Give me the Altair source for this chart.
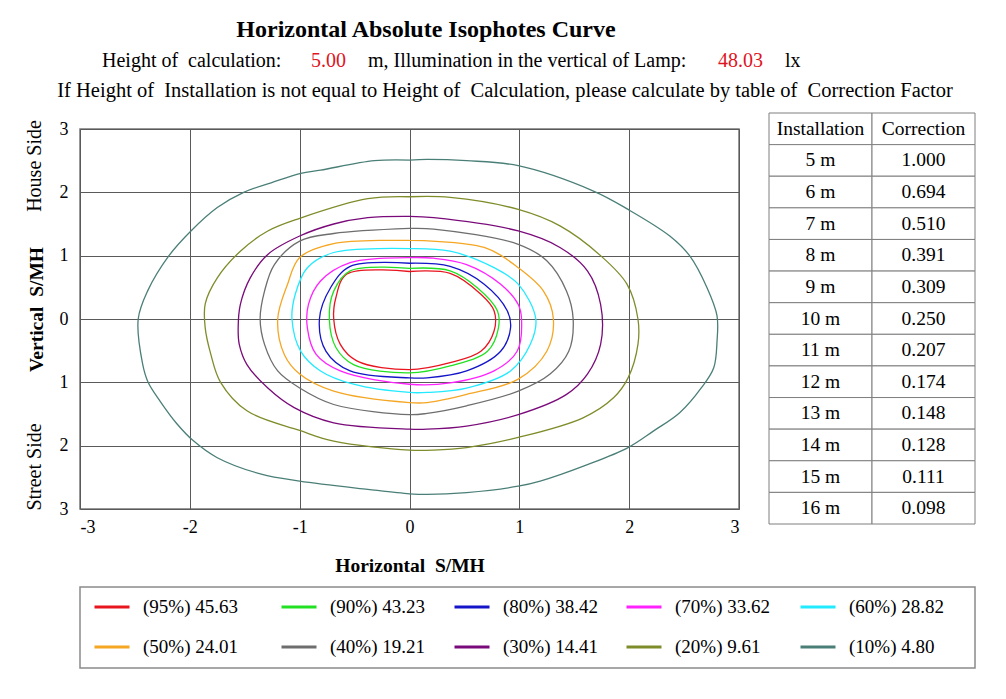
import altair as alt
import pandas as pd

FONT = "Liberation Serif"
NB = "\u00a0"

# ---- contour levels (legend labels) and colours ----
levels = ["(95%) 45.63", "(90%) 43.23", "(80%) 38.42", "(70%) 33.62", "(60%) 28.82",
          "(50%) 24.01", "(40%) 19.21", "(30%) 14.41", "(20%) 9.61", "(10%) 4.80"]
colors = ["#e8141e", "#22e022", "#1414c8", "#ff22ff", "#22eaff",
          "#f5a623", "#6e6e6e", "#7a0a7a", "#7f8c2a", "#4a7f78"]

# ---- isophote curves (x = horizontal S/MH, y = vertical S/MH) ----
x95 = [0, 0.37, 0.65, 0.77, 0.77, 0.65, 0.37, 0, -0.48, -0.63, -0.69, -0.67, -0.57, 0]
y95 = [0.75, 0.72, 0.39, 0.13, -0.19, -0.51, -0.69, -0.80, -0.66, -0.40, 0, 0.34, 0.71, 0.75]

x90 = [0, 0.37, 0.62, 0.80, 0.81, 0.71, 0.37, 0, -0.51, -0.67, -0.73, -0.69, -0.54, 0]
y90 = [0.80, 0.76, 0.49, 0.13, -0.14, -0.51, -0.74, -0.85, -0.72, -0.45, 0, 0.44, 0.76, 0.80]

x80 = [0, 0.37, 0.68, 0.89, 0.92, 0.83, 0.52, 0.16, 0, -0.54, -0.76, -0.82, -0.72, -0.54, 0]
y80 = [0.88, 0.83, 0.55, 0.13, -0.14, -0.51, -0.82, -0.93, -0.93, -0.82, -0.51, 0, 0.49, 0.83, 0.88]

x70 = [0, 0.22, 0.52, 0.83, 0.99, 1.02, 0.98, 0.77, 0.37, 0, -0.63, -0.85, -0.93, -0.92, -0.81, -0.54, 0]
y70 = [0.97, 0.96, 0.86, 0.55, 0.23, 0, -0.51, -0.82, -1.01, -1.03, -0.82, -0.56, -0.14, 0.23, 0.60, 0.89, 0.97]

x60 = [0, 0.37, 0.77, 0.99, 1.15, 1.10, 0.92, 0.52, 0.16, 0, -0.51, -0.81, -0.99, -1.07, -1.04, -0.93, -0.69, 0]
y60 = [1.11, 1.07, 0.81, 0.55, 0, -0.40, -0.82, -1.09, -1.16, -1.16, -1.03, -0.82, -0.51, 0, 0.39, 0.81, 1.05, 1.11]

x50 = [0, 0.68, 0.99, 1.22, 1.31, 1.25, 0.99, 0.52, 0.16, 0, -0.69, -1.00, -1.14, -1.20, -1.11, -1.00, -0.69, 0]
y50 = [1.24, 1.13, 0.81, 0.44, 0, -0.51, -0.95, -1.19, -1.32, -1.32, -1.14, -0.87, -0.56, 0, 0.55, 0.97, 1.19, 1.24]

x40 = [0, 0.22, 0.99, 1.25, 1.43, 1.49, 1.45, 1.28, 0.99, 0.52, 0.16, 0, -0.69, -1.00, -1.20, -1.32, -1.36, -1.32, -1.23, -1.00, -0.69, 0]
y40 = [1.43, 1.42, 1.18, 0.92, 0.44, 0, -0.51, -0.87, -1.14, -1.37, -1.49, -1.51, -1.35, -1.09, -0.82, -0.40, 0, 0.44, 0.86, 1.23, 1.35, 1.43]

x30 = [0, 0.22, 0.99, 1.37, 1.62, 1.74, 1.74, 1.62, 1.43, 0.99, 0.52, 0.16, 0, -0.69, -1.05, -1.29, -1.48, -1.55, -1.56, -1.54, -1.45, -1.29, -1.00, -0.69, -0.38, 0]
y30 = [1.62, 1.60, 1.39, 1.13, 0.76, 0.23, -0.40, -0.87, -1.19, -1.51, -1.69, -1.74, -1.74, -1.64, -1.40, -1.09, -0.72, -0.40, -0.14, 0.23, 0.65, 1.02, 1.31, 1.50, 1.60, 1.62]

x20 = [0, 0.37, 0.99, 1.37, 1.74, 1.98, 2.08, 2.08, 1.99, 1.86, 1.58, 0.99, 0.52, 0.22, 0, -0.69, -1.00, -1.48, -1.72, -1.81, -1.86, -1.86, -1.75, -1.54, -1.29, -1.00, -0.38, 0]
y20 = [1.93, 1.92, 1.73, 1.47, 1.00, 0.55, 0, -0.40, -0.93, -1.24, -1.56, -1.87, -2.03, -2.07, -2.07, -1.93, -1.76, -1.45, -1.00, -0.55, -0.14, 0.24, 0.65, 1.07, 1.39, 1.59, 1.90, 1.93]

x10 = [0, 0.16, 0.52, 0.99, 1.675, 1.99, 2.37, 2.55, 2.71, 2.80, 2.80, 2.77, 2.66, 2.46, 2.22, 1.99, 1.62,
       1.19, 0.99, 0.52, 0.16, 0, -0.38, -1.00, -1.35, -1.75, -1.97, -2.12, -2.27, -2.38, -2.43, -2.47, -2.385,
       -2.19, -1.99, -1.75, -1.51, -1.26, -0.99, -0.81, -0.32, 0]
y10 = [2.51, 2.52, 2.50, 2.42, 2.02, 1.73, 1.31, 1.00, 0.49, 0.05, -0.35, -0.77, -1.08, -1.48, -1.77, -2.03, -2.30,
       -2.56, -2.64, -2.74, -2.77, -2.76, -2.69, -2.56, -2.45, -2.19, -1.92, -1.65, -1.30, -1.00, -0.71, 0, 0.44,
       1.00, 1.39, 1.76, 2.00, 2.15, 2.30, 2.35, 2.50, 2.51]

curves = [(x95, y95), (x90, y90), (x80, y80), (x70, y70), (x60, y60),
          (x50, y50), (x40, y40), (x30, y30), (x20, y20), (x10, y10)]

# ---- correction factor table ----
table_header = ["Installation", "Correction"]
installation = ["5 m", "6 m", "7 m", "8 m", "9 m", "10 m", "11 m", "12 m", "13 m", "14 m", "15 m", "16 m"]
correction = ["1.000", "0.694", "0.510", "0.391", "0.309", "0.250", "0.207", "0.174", "0.148", "0.128", "0.111", "0.098"]

axis_ticks = [-3, -2, -1, 0, 1, 2, 3]

# ---------------- build tables ----------------
rows = []
for lev, (xs, ys) in zip(levels, curves):
    for i, (a, b) in enumerate(zip(xs, ys)):
        rows.append({"level": lev, "i": i, "x": a, "y": b})
cdf = pd.DataFrame(rows)

trows = []
for c, h in enumerate(table_header):
    trows.append({"r": 0, "c": c, "text": h})
for r, (a, b) in enumerate(zip(installation, correction), start=1):
    trows.append({"r": r, "c": 0, "text": a})
    trows.append({"r": r, "c": 1, "text": b})
tdf = pd.DataFrame(trows)
tdf["r2"] = tdf["r"] + 1
tdf["c2"] = tdf["c"] + 1
tdf["rm"] = tdf["r"] + 0.5
tdf["cm"] = tdf["c"] + 0.5

ldf = pd.DataFrame({"level": levels,
                    "col": [k % 5 for k in range(len(levels))],
                    "row": [k // 5 for k in range(len(levels))]})

color_scale = alt.Scale(domain=levels, range=colors)

# ---------------- layers ----------------
contours = alt.Chart(cdf).mark_line(strokeWidth=1.3, interpolate="catmull-rom").encode(
    x=alt.X("x:Q", scale=alt.Scale(domain=[-3, 3], nice=False, zero=False),
            axis=alt.Axis(values=axis_ticks, title="Horizontal" + NB + " S/MH", grid=True, ticks=False,
                          domain=False, labelPadding=9, titlePadding=20,
                          labelExpr="datum.value < 0 ? '-' + abs(datum.value) : '' + datum.value")),
    y=alt.Y("y:Q", scale=alt.Scale(domain=[-3, 3], nice=False, zero=False),
            axis=alt.Axis(values=axis_ticks, title="Vertical" + NB + " S/MH", grid=True, ticks=False,
                          domain=False, labelPadding=12, titlePadding=13, titleY=180,
                          labelExpr="'' + abs(datum.value)")),
    color=alt.Color("level:N", scale=color_scale, legend=None),
    order="i:Q",
)

tx = alt.Scale(domain=[0, 2], range=[689, 895], nice=False, zero=False)
ty = alt.Scale(domain=[0, 13], range=[-16, 395], nice=False, zero=False)

cells = alt.Chart(tdf).mark_rect(fill="white", stroke="#7f7f7f", strokeWidth=1).encode(
    x=alt.X("c:Q", scale=tx, axis=None), x2="c2:Q",
    y=alt.Y("r:Q", scale=ty, axis=None), y2="r2:Q",
)
cell_text = alt.Chart(tdf).mark_text(font=FONT, fontSize=19.5, baseline="middle", color="black").encode(
    x=alt.X("cm:Q", scale=tx, axis=None),
    y=alt.Y("rm:Q", scale=ty, axis=None),
    text="text:N",
)

one = pd.DataFrame({"a": [0]})

legend_box = alt.Chart(one).mark_rect(fillOpacity=0, stroke="#8a8a8a", strokeWidth=1.5).encode(
    x=alt.value(0), x2=alt.value(895), y=alt.value(458), y2=alt.value(539)
)
lx = alt.Scale(domain=[0, 1, 2, 3, 4], range=[32, 219, 392, 564, 738], nice=False, zero=False)
ly = alt.Scale(domain=[0, 1], range=[478, 518], nice=False, zero=False)
legend_sym = alt.Chart(ldf).mark_point(shape="stroke", size=1225, strokeWidth=3, filled=False, opacity=1).encode(
    x=alt.X("col:Q", scale=lx, axis=None),
    y=alt.Y("row:Q", scale=ly, axis=None),
    color=alt.Color("level:N", scale=color_scale, legend=None),
)
legend_lab = alt.Chart(ldf).mark_text(font=FONT, fontSize=19, align="left", baseline="middle",
                                      dx=31, color="black").encode(
    x=alt.X("col:Q", scale=lx, axis=None),
    y=alt.Y("row:Q", scale=ly, axis=None),
    text="level:N",
)


def label(txt, x, y, size=20, weight="normal", color="black", align="left", angle=0):
    return alt.Chart(one).mark_text(text=txt, font=FONT, fontSize=size, fontWeight=weight, color=color,
                                    align=align, baseline="middle", angle=angle).encode(
        x=alt.value(x), y=alt.value(y))


line3 = ("If Height of" + NB + " Installation is not equal to Height of" + NB +
         " Calculation, please calculate by table of" + NB + " Correction Factor")

texts = [
    label("Horizontal Absolute Isophotes Curve", 346, -99, size=24, weight="bold", align="center"),
    label("Height of" + NB + " calculation:", 22, -68),
    label("5.00", 231, -68, color="#e0141e"),
    label("m, Illumination in the vertical of Lamp:", 288, -68),
    label("48.03", 638, -68, color="#e0141e"),
    label("lx", 705, -68),
    label(line3, 425, -38, size=20.5, align="center"),
    label("House Side", -45, 37, align="center", angle=270),
    label("Street Side", -45, 338, align="center", angle=270),
]

chart = alt.layer(cells, cell_text, contours, legend_box, legend_sym, legend_lab, *texts).resolve_scale(
    x="independent", y="independent", color="shared"
).properties(
    width=659, height=380,
    autosize=alt.AutoSizeParams(type="none"),
    padding={"left": 72, "top": 121, "right": 255, "bottom": 172},
    background="white",
).configure_view(
    stroke="#777777", strokeWidth=1.5
).configure_axis(
    labelFont=FONT, labelFontSize=18, labelColor="black",
    titleFont=FONT, titleFontSize=19.5, titleFontWeight="bold", titleColor="black",
    gridColor="#5a5a5a", gridWidth=1, gridOpacity=1,
)

chart.save("out.html", embed_options={"renderer": "svg", "actions": False})
